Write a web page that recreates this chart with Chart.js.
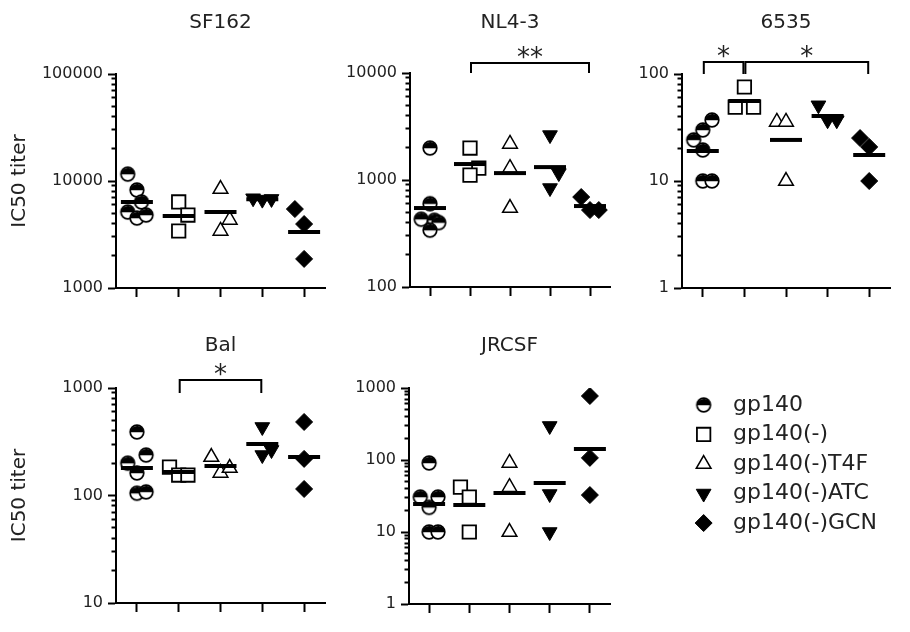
<!DOCTYPE html>
<html>
<head>
<meta charset="utf-8">
<script src="https://cdn.jsdelivr.net/npm/chart.js@4.4.1/dist/chart.umd.min.js"></script>
<style>
  html, body { margin: 0; padding: 0; background: #fff; }
  #wrap { position: relative; width: 910px; height: 632px; overflow: hidden; }
  canvas { position: absolute; }
</style>
</head>
<body>
<div id="wrap">
  <canvas id="sf162"></canvas>
  <canvas id="nl43"></canvas>
  <canvas id="s6535"></canvas>
  <canvas id="bal"></canvas>
  <canvas id="jrcsf"></canvas>
  <canvas id="legend"></canvas>
</div>
<script>
// groups (legend order)
const groups = ['gp140', 'gp140(-)', 'gp140(-)T4F', 'gp140(-)ATC', 'gp140(-)GCN'];
const yLabel = 'IC50 titer';

// SF162
const sf162Values = [
  [11600, 8240, 6370, 5130, 4510, 4810],
  [6370, 4810, 3410],
  [8410, 4330, 3410],
  [6900, 6700, 6800],
  [5470, 3960, 1870]
];
const sf162Jitter = [[-1, 0, 0.5, -1, 0, 1], [0, 1, 0], [0, 1, 0], [-1, 0, 1], [-1, 0, 0]];
const sf162Means = [6380, 4710, 5130, 6760, 3340];
const sf162Ticks = [1000, 10000, 100000];

// NL4-3
const nl43Values = [
  [1990, 600, 430, 420, 400, 340],
  [1990, 1290, 1110],
  [2170, 1290, 547],
  [2630, 1160, 841],
  [693, 524, 524]
];
const nl43Jitter = [[0, 0, -1, 0.5, 1, 0], [0, 1, 0], [0, 0, 0], [0, 1, 0], [-1, 0, 1]];
const nl43Means = [547, 1410, 1160, 1320, 571];
const nl43Ticks = [100, 1000, 10000];
const nl43Sig = [{ from: 2, to: 5, label: '**' }];

// 6535
const s6535Values = [
  [37.2, 30, 24.2, 19.5, 10, 10],
  [75.6, 49, 49],
  [35.6, 35.6, 10],
  [51, 37, 37],
  [25.2, 20.8, 10]
];
const s6535Jitter = [[1, 0, -1, 0, 0, 1], [0, -1, 1], [-1, 0, 0], [-1, 0, 1], [-1, 0, 0]];
const s6535Means = [19.1, 56, 24.2, 40.5, 17.5];
const s6535Ticks = [1, 10, 100];
const s6535Sig = [{ from: 1, to: 2, label: '*' }, { from: 2, to: 5, label: '*' }];

// Bal
const balValues = [
  [390, 200, 238, 162, 105, 108],
  [184, 155, 155],
  [228, 162, 180],
  [434, 238, 265],
  [483, 219, 115]
];
const balJitter = [[0, -1, 1, 0, 0, 1], [-1, 0, 1], [-1, 0, 1], [0, 0, 1], [0, 0, 0]];
const balMeans = [180, 165, 188, 301, 228];
const balTicks = [10, 100, 1000];
const balSig = [{ from: 2, to: 4, label: '*' }];

// JRCSF
const jrcsfValues = [
  [91, 30.6, 30.6, 22, 10, 10],
  [42, 30.6, 10],
  [91, 42, 10],
  [297, 33.7, 10],
  [774, 107, 32.6]
];
const jrcsfJitter = [[0, -1, 1, 0, 0, 1], [-1, 0, 0], [0, 0, 0], [0, 0, 0], [0, 0, 0]];
const jrcsfMeans = [24.5, 23.7, 34.8, 48, 142];
const jrcsfTicks = [1, 10, 100, 1000];

const JITTER = 0.22;
const TEXT = '#222';
Chart.defaults.font.family = '"DejaVu Sans", Verdana, sans-serif';
Chart.defaults.color = TEXT;

// half-filled circle marker
function halfCircle() {
  const c = document.createElement('canvas');
  c.width = 18; c.height = 18;
  const g = c.getContext('2d');
  g.fillStyle = '#fff';
  g.beginPath(); g.arc(9, 9, 6.8, 0, Math.PI * 2); g.fill();
  g.fillStyle = '#000';
  g.beginPath(); g.arc(9, 9.8, 6.8, Math.PI * 1.03, -Math.PI * 0.03); g.closePath(); g.fill();
  g.lineWidth = 1.7; g.strokeStyle = '#000';
  g.beginPath(); g.arc(9, 9, 6.8, 0, Math.PI * 2); g.stroke();
  return c;
}
const circleImg = halfCircle();

const markers = [
  { pointStyle: circleImg, pointRadius: 8, backgroundColor: '#fff', borderColor: '#000', borderWidth: 1 },
  { pointStyle: 'rect', pointRadius: 9.5, backgroundColor: '#fff', borderColor: '#000', borderWidth: 1.8 },
  { pointStyle: 'triangle', pointRadius: 8.5, backgroundColor: '#fff', borderColor: '#000', borderWidth: 1.5 },
  { pointStyle: 'triangle', rotation: 180, pointRadius: 8.5, backgroundColor: '#000', borderColor: '#000', borderWidth: 1 },
  { pointStyle: 'rectRot', pointRadius: 8.5, backgroundColor: '#000', borderColor: '#000', borderWidth: 1 }
];

function minorTicks(majors) {
  const out = [];
  for (let i = 0; i < majors.length - 1; i++) {
    for (let k = 2; k <= 9; k++) out.push(majors[i] * k);
  }
  return out;
}

// significance brackets
const sigPlugin = {
  id: 'sig',
  afterDatasetsDraw(chart, args, opts) {
    if (!opts.items || !opts.items.length) return;
    const { ctx, chartArea } = chart;
    const xs = chart.scales.x;
    const barY = chartArea.top - opts.lift;
    ctx.save();
    ctx.strokeStyle = '#000';
    ctx.lineWidth = 2;
    ctx.fillStyle = TEXT;
    ctx.font = '26px "DejaVu Sans"';
    ctx.textAlign = 'center';
    ctx.textBaseline = 'alphabetic';
    opts.items.forEach(b => {
      const x1 = xs.getPixelForValue(b.from) + 1;
      const x2 = xs.getPixelForValue(b.to) - 1;
      ctx.beginPath();
      ctx.moveTo(x1, barY + opts.leg);
      ctx.lineTo(x1, barY);
      ctx.lineTo(x2, barY);
      ctx.lineTo(x2, barY + opts.leg);
      ctx.stroke();
      ctx.fillText(b.label, (x1 + x2) / 2, barY + 3);
    });
    ctx.restore();
  }
};

function makePanel(p) {
  const [bl, bt, bw, bh] = p.box;
  const [al, at, ar, ab] = p.area;
  const canvas = document.getElementById(p.id);
  canvas.width = bw; canvas.height = bh;
  canvas.style.left = bl + 'px'; canvas.style.top = bt + 'px';
  const xAxisH = 16;
  const titleTop = p.titleY - bt - 12;
  const titleBottom = (at - bt) - titleTop - 24;

  const datasets = groups.map((g, i) => Object.assign({
    label: g,
    order: 1,
    data: p.values[i].map((v, j) => ({ x: i + 1 + p.jitter[i][j] * JITTER, y: v }))
  }, markers[i]));
  datasets.push({
    label: 'mean',
    order: 0,
    data: p.means.map((m, i) => ({ x: i + 1, y: m })),
    pointStyle: 'line',
    pointRadius: 16,
    borderColor: '#000',
    borderWidth: 4
  });

  const majors = p.ticks;
  return new Chart(canvas, {
    type: 'scatter',
    data: { datasets },
    plugins: [sigPlugin],
    options: {
      responsive: false,
      animation: false,
      events: [],
      layout: { padding: { left: 0, top: 0, right: (bl + bw) - ar, bottom: (bt + bh) - ab - xAxisH } },
      plugins: {
        legend: { display: false },
        tooltip: { enabled: false },
        title: {
          display: true, text: p.title, fullSize: false, color: TEXT,
          font: { size: 20, weight: 'normal' },
          padding: { top: titleTop, bottom: titleBottom }
        },
        sig: { items: p.sig || [], lift: p.lift || 0, leg: p.leg || 0 }
      },
      scales: {
        x: {
          type: 'linear', min: 0.5, max: 5.5,
          afterBuildTicks: s => { s.ticks = groups.map((g, i) => ({ value: i + 1 })); },
          afterFit: s => { s.height = xAxisH; },
          ticks: { callback: () => '' },
          grid: { drawOnChartArea: false, tickLength: 9, tickWidth: 2, tickColor: '#000' },
          border: { color: '#000', width: 2 }
        },
        y: {
          type: 'logarithmic', min: majors[0], max: majors[majors.length - 1],
          weight: 1,
          afterBuildTicks: s => { s.ticks = majors.map(v => ({ value: v })); },
          afterFit: s => { s.width = al - bl; },
          ticks: { autoSkip: false, padding: 5, color: TEXT, font: { size: 16 }, callback: v => String(v) },
          grid: { drawOnChartArea: false, tickLength: 8, tickWidth: 2, tickColor: '#000' },
          border: { color: '#000', width: 2 },
          title: {
            display: !!p.yTitle, text: yLabel, color: TEXT,
            font: { size: 20 }, padding: { top: 8, bottom: 0 }
          }
        },
        y2: {
          type: 'logarithmic', position: 'left', min: majors[0], max: majors[majors.length - 1],
          weight: 0,
          afterBuildTicks: s => { s.ticks = minorTicks(majors).map(v => ({ value: v })); },
          afterFit: s => { s.width = 0; },
          ticks: { autoSkip: false, callback: () => '' },
          grid: { drawOnChartArea: false, tickLength: 4.5, tickWidth: 2, tickColor: '#000' },
          border: { color: '#000', width: 2 }
        }
      }
    }
  });
}

makePanel({ id: 'sf162', title: 'SF162', yTitle: true, titleY: 23,
  box: [0, 0, 345, 315], area: [116, 74, 330, 288],
  values: sf162Values, jitter: sf162Jitter, means: sf162Means, ticks: sf162Ticks });
makePanel({ id: 'nl43', title: 'NL4-3', titleY: 23,
  box: [340, 0, 290, 315], area: [410, 73, 625, 287],
  values: nl43Values, jitter: nl43Jitter, means: nl43Means, ticks: nl43Ticks,
  sig: nl43Sig, lift: 10, leg: 10 });
makePanel({ id: 's6535', title: '6535', titleY: 23,
  box: [630, 0, 280, 315], area: [682, 74, 897, 288],
  values: s6535Values, jitter: s6535Jitter, means: s6535Means, ticks: s6535Ticks,
  sig: s6535Sig, lift: 12, leg: 12 });
makePanel({ id: 'bal', title: 'Bal', yTitle: true, titleY: 346,
  box: [0, 315, 345, 317], area: [116, 388, 330, 603],
  values: balValues, jitter: balJitter, means: balMeans, ticks: balTicks,
  sig: balSig, lift: 8, leg: 13 });
makePanel({ id: 'jrcsf', title: 'JRCSF', titleY: 346,
  box: [340, 315, 290, 317], area: [409, 388, 624, 604],
  values: jrcsfValues, jitter: jrcsfJitter, means: jrcsfMeans, ticks: jrcsfTicks });

// legend: markers in a narrow plot, names as category tick labels on the right
(function () {
  const canvas = document.getElementById('legend');
  canvas.width = 240; canvas.height = 178;
  canvas.style.left = '665px'; canvas.style.top = '375px';
  new Chart(canvas, {
    type: 'scatter',
    data: {
      datasets: groups.map((g, i) => Object.assign({ label: g, data: [{ x: 0, y: g }] }, markers[i]))
    },
    options: {
      responsive: false,
      animation: false,
      events: [],
      layout: { padding: 0 },
      plugins: { legend: { display: false }, tooltip: { enabled: false } },
      scales: {
        x: { display: false, min: -1, max: 1 },
        y: {
          type: 'category', labels: groups, position: 'right', offset: true,
          afterFit: s => { s.width = 240 - 66; },
          grid: { display: false, drawTicks: false },
          border: { display: false },
          ticks: { padding: 2, color: TEXT, font: { size: 22 } }
        }
      }
    }
  });
})();
</script>
</body>
</html>
